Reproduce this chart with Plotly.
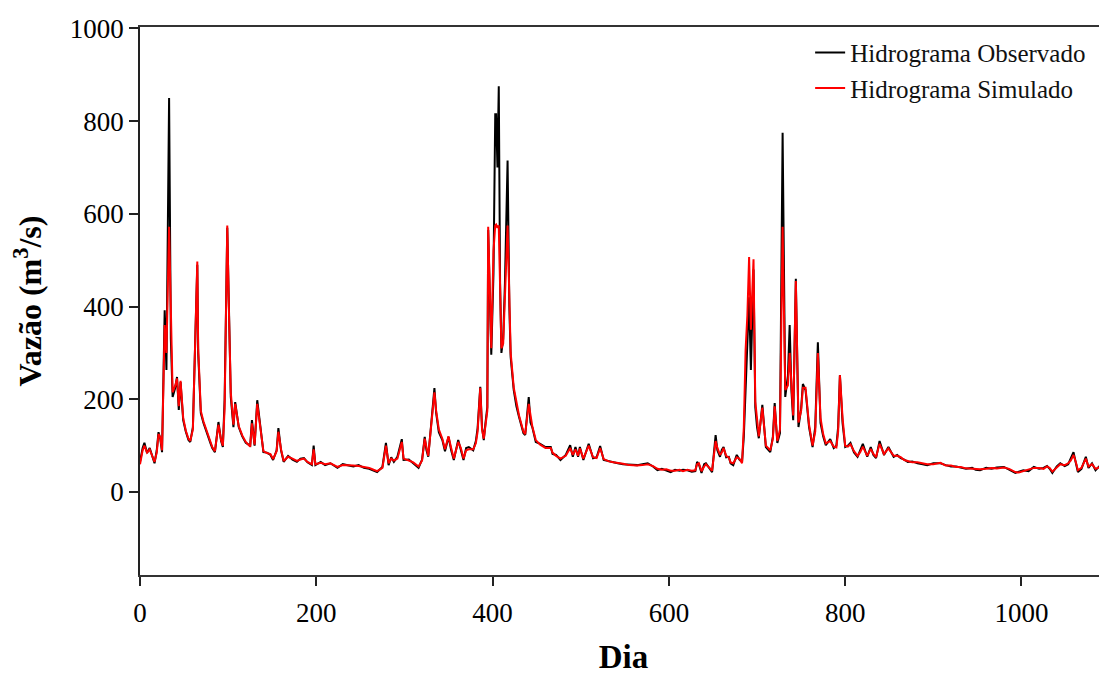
import plotly.graph_objects as go

dia = [0, 3, 5, 8, 11, 14, 16.5, 19, 21, 23, 25, 28, 30, 33, 35, 37, 40, 42, 44, 46,
       49, 52, 55, 57, 60, 62, 65, 66, 69, 72, 76, 80, 82, 85, 89, 92, 94, 96, 99, 101,
       103, 106, 108, 112, 116, 120, 125, 127, 130, 133, 137.5, 140, 144, 148, 151, 155, 157, 160, 163, 168,
       173, 178, 182, 186, 190, 195, 197, 199, 205, 210, 216, 224, 230, 235, 242, 248, 254, 260, 265, 269,
       275, 279, 282, 285, 288, 292, 297, 299, 305, 310, 316, 320, 323, 325, 327, 334, 336, 339, 343, 346,
       350, 353, 356, 361, 364, 367, 370, 373, 378, 381, 383, 386, 388, 390, 392, 394, 395, 397, 398.5, 401,
       403, 404, 405.5, 407, 408.5, 410, 412, 414, 417, 419, 420.5, 424, 427, 430, 435, 437, 441, 443, 445, 449,
       454, 460, 466, 468, 472, 477, 483, 488, 491, 494, 497, 499, 503, 509, 514, 518, 522, 526, 532, 537,
       542, 548, 555, 564, 570, 576, 582, 587, 592, 597, 602, 607, 612, 616, 621, 626, 630, 632, 634, 637,
       640, 642, 646, 649, 653, 655, 658, 660, 662, 665, 668, 670, 673, 675, 677, 680, 683, 685, 687, 689,
       691, 693, 696, 698, 700, 702, 706, 710, 715, 718, 720, 723, 726, 729, 732, 735, 737, 739, 741, 744,
       747, 750, 752, 755, 757, 759, 763, 766, 769, 772, 775, 778, 783, 787, 790, 792, 794, 797, 800, 803,
       806, 810, 814, 817, 820, 825, 829, 832, 835, 839, 844, 849, 855, 859, 863, 867, 871, 876, 882, 888,
       893, 900, 908, 914, 920, 926, 931, 937, 944, 948, 953, 960, 966, 972, 980, 986, 990, 993, 997, 1002,
       1008, 1014, 1020, 1025, 1029, 1032, 1035, 1040, 1044, 1049, 1053, 1056, 1059, 1062, 1064, 1068, 1073, 1076, 1080, 1084,
       1088, 1090, 1093, 1095, 1097]

observado = [65, 95, 106, 84, 95, 75, 62, 90, 129, 115, 86, 392, 263, 850, 330, 205, 225, 248, 177, 237,
             155, 130, 112, 108, 140, 280, 490, 300, 170, 149, 125, 105, 95, 86, 151, 110, 97, 200, 570, 350,
             205, 140, 194, 140, 120, 106, 100, 155, 100, 198, 127, 86, 85, 80, 69, 90, 138, 90, 65, 78,
             70, 65, 72, 73, 64, 58, 100, 58, 65, 58, 62, 52, 60, 58, 55, 58, 52, 50, 47, 43,
             54, 106, 58, 75, 65, 76, 114, 69, 70, 62, 52, 70, 119, 90, 76, 224, 170, 129, 112, 88,
             119, 90, 69, 112, 90, 69, 95, 97, 90, 110, 138, 227, 140, 112, 150, 183, 565, 400, 296, 472,
             815, 815, 700, 875, 450, 300, 330, 450, 715, 400, 291, 220, 185, 162, 127, 123, 205, 150, 140, 108,
             104, 97, 97, 82, 80, 69, 80, 101, 76, 97, 76, 97, 69, 104, 73, 75, 99, 69, 66, 63,
             62, 60, 59, 58, 60, 62, 55, 47, 50, 46, 43, 48, 46, 48, 47, 44, 45, 65, 60, 41,
             60, 62, 50, 43, 123, 90, 76, 91, 97, 75, 76, 62, 58, 70, 80, 70, 65, 120, 227, 300,
             420, 263, 480, 183, 140, 116, 188, 97, 86, 120, 192, 106, 127, 775, 205, 250, 360, 220, 155, 460,
             140, 180, 233, 220, 170, 140, 97, 140, 323, 149, 120, 101, 114, 95, 100, 140, 252, 149, 97, 100,
             106, 85, 76, 90, 104, 76, 97, 80, 73, 110, 80, 97, 76, 80, 73, 70, 65, 66, 62, 60,
             58, 62, 62, 58, 55, 55, 52, 50, 52, 48, 47, 52, 50, 53, 54, 48, 45, 41, 44, 47,
             45, 54, 50, 52, 56, 50, 41, 55, 62, 56, 60, 72, 86, 60, 43, 50, 76, 52, 62, 47,
             55, 52, 134, 90, 69]

simulado = [60, 90, 100, 85, 92, 78, 65, 85, 125, 118, 90, 360, 300, 572, 360, 215, 230, 245, 185, 240,
            160, 132, 115, 110, 135, 260, 497, 310, 175, 152, 128, 108, 97, 88, 145, 112, 100, 180, 575, 380,
            215, 145, 190, 142, 122, 108, 98, 148, 102, 190, 130, 88, 84, 82, 71, 88, 130, 92, 67, 76,
            72, 67, 70, 72, 65, 60, 92, 60, 63, 60, 62, 54, 58, 57, 57, 56, 54, 52, 48, 45,
            52, 100, 62, 72, 68, 72, 108, 72, 68, 64, 55, 68, 115, 92, 78, 215, 175, 135, 115, 92,
            120, 95, 72, 108, 95, 72, 90, 92, 92, 105, 130, 225, 135, 115, 140, 175, 572, 420, 310, 520,
            575, 577, 570, 575, 420, 310, 320, 430, 575, 420, 300, 225, 190, 165, 130, 125, 190, 160, 142, 112,
            102, 95, 95, 85, 78, 72, 78, 95, 80, 92, 78, 94, 72, 100, 75, 73, 95, 71, 66, 64,
            63, 61, 58, 57, 58, 60, 56, 50, 48, 49, 46, 46, 48, 45, 48, 46, 47, 60, 62, 45,
            55, 60, 52, 46, 110, 95, 80, 85, 95, 78, 74, 64, 62, 68, 75, 72, 62, 140, 306, 380,
            507, 350, 502, 195, 150, 120, 182, 100, 90, 115, 185, 110, 135, 572, 220, 230, 300, 230, 165, 455,
            150, 175, 225, 225, 175, 145, 100, 130, 300, 160, 125, 105, 110, 98, 96, 130, 252, 160, 100, 98,
            103, 88, 78, 86, 98, 78, 93, 82, 75, 104, 82, 94, 78, 78, 75, 69, 67, 64, 64, 61,
            60, 60, 63, 57, 57, 54, 54, 51, 50, 49, 49, 50, 52, 51, 53, 50, 46, 43, 42, 45,
            47, 52, 52, 50, 55, 52, 44, 52, 60, 58, 62, 68, 80, 62, 47, 52, 72, 55, 60, 50,
            53, 55, 125, 95, 72]

y_ticks = [0, 200, 400, 600, 800, 1000]
x_ticks = [0, 200, 400, 600, 800, 1000]

serif = "Liberation Serif, Times New Roman, serif"

fig = go.Figure()
fig.add_trace(go.Scatter(x=dia, y=observado, mode="lines", name="Hidrograma Observado",
                         line=dict(color="#000000", width=2)))
fig.add_trace(go.Scatter(x=dia, y=simulado, mode="lines", name="Hidrograma Simulado",
                         line=dict(color="#ff0000", width=2)))

# the page body adds an 8px margin, so the figure is sized/offset to compensate
fig.update_layout(
    width=1099, height=667,
    margin=dict(l=132, r=0, t=19, b=100),
    paper_bgcolor="white", plot_bgcolor="white",
    font=dict(family=serif, color="black"),
    showlegend=True,
    legend=dict(x=0.693, y=0.995, xanchor="left", yanchor="top",
                font=dict(family=serif, size=25, color="#111111"),
                bgcolor="rgba(0,0,0,0)", borderwidth=0, tracegroupgap=0),
    xaxis=dict(range=[0, 1097], tickvals=x_ticks, ticks="outside", ticklen=9, tickwidth=1.5,
               tickcolor="#222222", showline=True, linecolor="#333333", linewidth=1.5,
               mirror=True, showgrid=False, zeroline=False, automargin=False,
               tickfont=dict(family=serif, size=27, color="black"),
               ticklabelstandoff=4,
               title=dict(text="<b>Dia</b>", font=dict(family=serif, size=33, color="black"),
                          standoff=36)),
    yaxis=dict(range=[-179, 1003], tickvals=y_ticks, ticks="outside", ticklen=9, tickwidth=1.5,
               tickcolor="#222222", showline=True, linecolor="#222222", linewidth=1.5,
               showgrid=False, zeroline=False, automargin=False,
               tickfont=dict(family=serif, size=27, color="black"),
               ticklabelstandoff=0,
               title=dict(text="<b>Vazão (m<sup>3</sup>/s)</b>",
                          font=dict(family=serif, size=32, color="black"), standoff=26)),
)

fig.write_html("out.html")
